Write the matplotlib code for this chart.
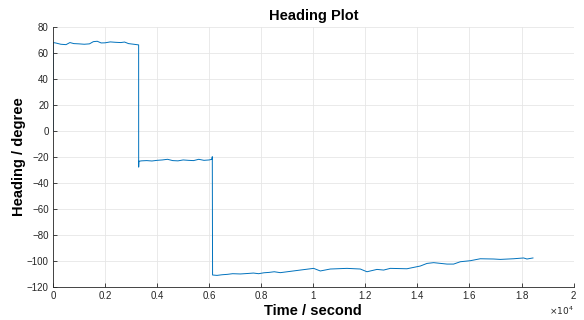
import matplotlib
matplotlib.use("Agg")
import matplotlib.pyplot as plt
from matplotlib.ticker import FixedLocator, FuncFormatter

plt.rcParams['font.family'] = ['Liberation Sans', 'DejaVu Sans']

# Time in seconds, heading in degrees
time_s = [0, 1, 100, 300, 500, 650, 800, 1000, 1200, 1400, 1550, 1700, 1850, 2000,
          2200, 2400, 2600, 2750, 2900, 3100, 3290,
          3291, 3300, 3400, 3600, 3800, 4000, 4200, 4400, 4600, 4800, 5000, 5200,
          5400, 5600, 5800, 6000, 6100, 6120,
          6130, 6300, 6500, 6700, 6900, 7200, 7500, 7700, 7900, 8100, 8300, 8500,
          8732, 9000, 9500, 10013, 10269, 10653, 11293, 11805, 12062, 12446, 12702,
          12958, 13598, 14110, 14367, 14623, 15135, 15392, 15648, 16032, 16416,
          16928, 17184, 17696, 18080, 18208, 18439]
heading_deg = [0, 67.8, 67.5, 66.5, 66.2, 67.8, 67.0, 66.8, 66.5, 66.8, 68.5, 68.8, 67.5, 67.6,
               68.3, 68.0, 67.8, 68.2, 67.0, 66.5, 66.0,
               -28.0, -23.5, -23.2, -23.0, -23.3, -22.8, -22.5, -22.0, -23.0, -23.2, -22.5, -22.8,
               -23.0, -22.0, -22.8, -22.5, -22.0, -20.0,
               -111.0, -111.3, -110.8, -110.5, -110.0, -110.2, -109.8, -109.5, -110.0, -109.3, -109.0, -108.5,
               -109.2, -108.5, -107.2, -105.9, -107.9, -106.4, -105.9, -106.4, -108.5, -106.7, -107.2,
               -105.9, -106.2, -104.1, -102.1, -101.5, -102.6, -102.6, -100.8, -100.0, -98.5,
               -98.7, -99.0, -98.5, -97.9, -98.7, -97.9]

x_ticks = [0, 2000, 4000, 6000, 8000, 10000, 12000, 14000, 16000, 18000, 20000]
y_ticks = [-120, -100, -80, -60, -40, -20, 0, 20, 40, 60, 80]

fig = plt.figure(figsize=(5.84, 3.2), dpi=100)
ax = fig.add_axes([53/584, 33.3/320, 520.6/584, 260/320])
ax.plot(time_s, heading_deg, color='#0072BD', linewidth=0.7)
ax.set_xlim(0, 20000)
ax.set_ylim(-120, 80)
ax.xaxis.set_major_locator(FixedLocator(x_ticks))
ax.yaxis.set_major_locator(FixedLocator(y_ticks))
ax.xaxis.set_major_formatter(FuncFormatter(lambda v, p: f"{v/1e4:g}"))
ax.grid(True, color='#e6e6e6', linewidth=0.6)
ax.set_axisbelow(True)
for s in ['top', 'right']:
    ax.spines[s].set_visible(False)
for s in ['left', 'bottom']:
    ax.spines[s].set_color('#262626')
    ax.spines[s].set_linewidth(0.6)
ax.tick_params(direction='in', length=3, width=0.6, colors='#262626', labelsize=7, pad=3)
ax.set_title('Heading Plot', fontsize=10.5, fontweight='bold', color='#000000', pad=5)
ax.set_xlabel('Time / second', fontsize=10.5, fontweight='bold', labelpad=2)
ax.set_ylabel('Heading / degree', fontsize=10.5, fontweight='bold', labelpad=1)
ax.text(1.0, -0.092, r'$\times10^{4}$', transform=ax.transAxes, ha='right', va='center',
        fontsize=6.5, color='#262626')
fig.savefig('out.png', dpi=100)
